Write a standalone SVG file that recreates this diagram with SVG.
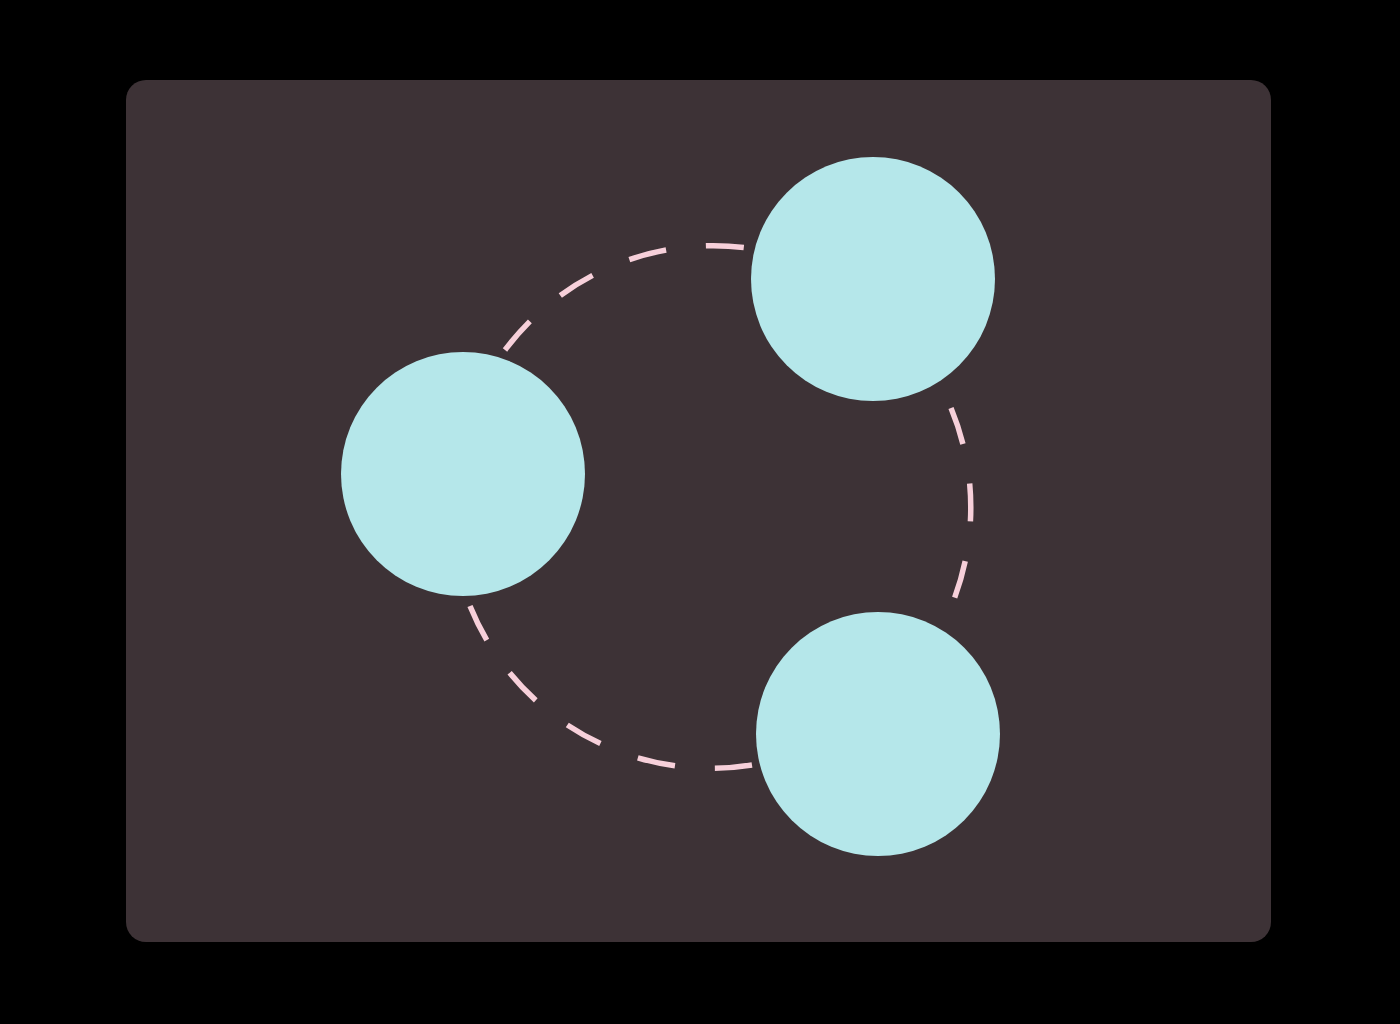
<svg xmlns="http://www.w3.org/2000/svg" width="1400" height="1024" viewBox="0 0 1400 1024">
<style>
.node{fill:#b5e7ea}
.edge{fill:none;stroke:#f7d0da;stroke-width:5.5;stroke-dasharray:38 40}
</style>
<rect x="0" y="0" width="1400" height="1024" fill="#000"/>
<rect x="126" y="80" width="1145" height="862" rx="20" fill="#3d3236"/>
<g id="connectors">
<path class="edge" d="M 505 350 A 260 260 0 0 1 748 248"/>
<path class="edge" d="M 951 408 A 260 260 0 0 1 953 602"/>
<path class="edge" d="M 470 606 A 260 260 0 0 0 752 765"/>
</g>
<g id="node-left"><circle class="node" cx="463" cy="474" r="122"/></g>
<g id="node-top"><circle class="node" cx="873" cy="279" r="122"/></g>
<g id="node-bottom"><circle class="node" cx="878" cy="734" r="122"/></g>
</svg>
